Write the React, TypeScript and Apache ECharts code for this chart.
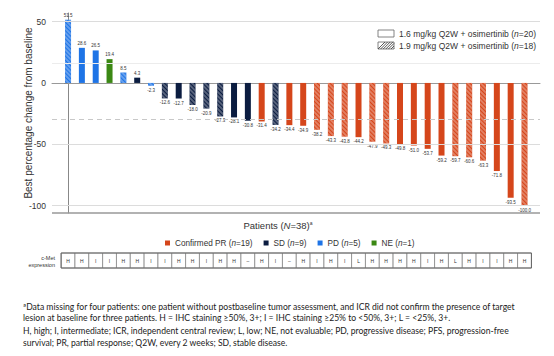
import { useEffect, useRef } from 'react';
import * as echarts from 'echarts';

const changes = [51.5, 28.6, 26.5, 19.4, 8.5, 4.3, -2.3, -12.6, -12.7, -18.0, -20.9, -27.3, -28.1, -30.8, -31.4, -34.2, -34.4, -34.9, -38.2, -43.3, -43.8, -44.2, -47.9, -49.3, -49.8, -51.0, -53.7, -59.2, -59.7, -60.6, -63.3, -71.8, -93.5, -100.0];
const responses = ['PD', 'PD', 'PD', 'NE', 'PD', 'SD', 'PD', 'SD', 'SD', 'SD', 'SD', 'SD', 'SD', 'SD', 'PR', 'SD', 'PR', 'PR', 'PR', 'PR', 'PR', 'PR', 'PR', 'PR', 'PR', 'PR', 'PR', 'PR', 'PR', 'PR', 'PR', 'PR', 'PR', 'PR'];
const doses = ['1.9', '1.6', '1.6', '1.6', '1.9', '1.6', '1.9', '1.9', '1.6', '1.9', '1.9', '1.9', '1.6', '1.6', '1.6', '1.9', '1.6', '1.6', '1.9', '1.9', '1.9', '1.6', '1.9', '1.9', '1.6', '1.6', '1.6', '1.6', '1.9', '1.9', '1.9', '1.6', '1.6', '1.9'];
const cMet = ['H', 'H', 'I', 'I', 'H', 'H', 'I', 'I', 'H', 'H', 'I', 'H', 'H', '–', 'H', 'I', '–', 'H', 'I', 'H', 'I', 'L', 'H', 'H', 'H', 'H', 'I', 'H', 'L', 'H', 'I', 'I', 'H', 'H'];

const responseKeys = ['PR', 'SD', 'PD', 'NE'];
const responseNames = ['Confirmed PR', 'SD', 'PD', 'NE'];
const responseCounts = [19, 9, 5, 1];
const responseColors = ['#D5461B', '#0B1C40', '#1E74E6', '#3B8814'];

const doseKeys = ['1.6', '1.9'];
const doseLabels = ['1.6 mg/kg Q2W + osimertinib', '1.9 mg/kg Q2W + osimertinib'];
const doseCounts = [20, 18];

const yTicks = [50, 0, -50, -100];
const gridValues = [50, -50, -100];
const prThreshold = -30;
const faintValue = 16;
const yMin = -106;
const yMax = 57;

const yAxisTitle = 'Best percentage change from baseline';
const footnotes = [
  'ªData missing for four patients: one patient without postbaseline tumor assessment, and ICR did not confirm the presence of target',
  'lesion at baseline for three patients. H = IHC staining ≥50%, 3+; I = IHC staining ≥25% to <50%, 3+; L = <25%, 3+.',
  'H, high; I, intermediate; ICR, independent central review; L, low; NE, not evaluable; PD, progressive disease; PFS, progression-free',
  'survival; PR, partial response; Q2W, every 2 weeks; SD, stable disease.',
];

const FONT = '"Liberation Sans", Arial, sans-serif';

export default function App() {
  const ref = useRef<HTMLDivElement>(null);
  useEffect(() => {
    document.body.style.margin = '0';
    const chart = echarts.init(ref.current!, null, { renderer: 'svg' });
    const hatch = {
      symbol: 'rect',
      symbolSize: 0.62,
      color: '#ffffff',
      dashArrayX: [1, 0],
      dashArrayY: [2, 1],
      rotation: Math.PI / 4,
    };
    const series: any[] = responseKeys.map((key, k) => ({
      type: 'bar',
      name: `${responseNames[k]} (n=${responseCounts[k]})`,
      barWidth: 6,
      barGap: '-100%',
      itemStyle: { color: responseColors[k] },
      label: {
        show: true,
        fontSize: 4.5,
        color: '#333',
        fontFamily: FONT,
        distance: 2,
        formatter: (p: any) => p.value[1].toFixed(1),
      },
      data: changes
        .map((v, i) => ({ i, v }))
        .filter(({ i }) => responses[i] === key)
        .map(({ i, v }) => ({
          value: [i, v],
          itemStyle: doses[i] === '1.9' ? { decal: hatch } : {},
          label: { position: v >= 0 ? 'top' : 'bottom' },
        })),
    }));
    series[0].markLine = {
      silent: true,
      symbol: 'none',
      label: { show: false },
      data: [
        ...gridValues.map((v) => ({ yAxis: v, lineStyle: { color: '#dcdcdc', type: 'solid', width: 1 } })),
        { yAxis: prThreshold, lineStyle: { color: '#c8c8c8', type: [5, 4], width: 1 } },
        { yAxis: faintValue, lineStyle: { color: '#ececec', type: 'solid', width: 1 } },
        { yAxis: yMin, lineStyle: { color: '#999', type: 'solid', width: 1.5 } },
      ],
    };

    chart.setOption({
      animation: false,
      grid: { left: 52, right: 14, top: 13, bottom: 356 - 213 },
      xAxis: {
        type: 'value',
        min: -1.16,
        max: 34.12,
        axisLine: { show: true, onZero: true, lineStyle: { color: '#999', width: 1 } },
        axisTick: { show: false },
        axisLabel: { show: false },
        splitLine: { show: false },
      },
      yAxis: {
        type: 'value',
        min: yMin,
        max: yMax,
        axisLine: { show: true, lineStyle: { color: '#888' } },
        axisTick: { show: true, length: 4, customValues: yTicks, lineStyle: { color: '#888' } },
        axisLabel: { show: true, customValues: yTicks, fontSize: 8.5, color: '#333', fontFamily: FONT, margin: 6 },
        splitLine: { show: false },
        name: yAxisTitle,
        nameLocation: 'middle',
        nameRotate: 90,
        nameGap: 19,
        nameMoveOverlap: false,
        nameTextStyle: { fontSize: 10, color: '#333', fontFamily: FONT },
      },
      legend: {
        left: 160,
        top: 234,
        itemWidth: 5,
        itemHeight: 5,
        itemGap: 11,
        icon: 'rect',
        data: series.map((s) => s.name),
        formatter: (name: string) => name.replace('(n=', '({i|n}='),
        textStyle: {
          fontSize: 8.2,
          color: '#333',
          fontFamily: FONT,
          rich: { i: { fontStyle: 'italic', fontSize: 8.2, color: '#333', fontFamily: FONT } },
        },
      },
      series,
    });

    const px = (i: number, v: number) => chart.convertToPixel({ gridIndex: 0 }, [i, v]) as number[];
    const step = px(1, 0)[0] - px(0, 0)[0];
    const graphics: any[] = [];

    // top-right dose legend
    doseKeys.forEach((d, k) => {
      const y = 30 + k * 12;
      graphics.push({
        type: 'rect',
        shape: { x: 378, y, width: 16, height: 7 },
        style: { fill: '#fff', stroke: '#666', lineWidth: 0.8 },
      });
      if (d === '1.9') {
        for (let s = 0; s < 7; s++) {
          const x0 = 378 + s * 2.6;
          graphics.push({
            type: 'line',
            shape: { x1: x0, y1: y + 7, x2: Math.min(x0 + 7, 394), y2: y + 7 - (Math.min(x0 + 7, 394) - x0) },
            style: { stroke: '#444', lineWidth: 0.9 },
          });
        }
      }
      graphics.push({
        type: 'text',
        x: 399,
        y: y + 3.5,
        style: {
          text: `${doseLabels[k]} ({i|n}=${doseCounts[k]})`,
          font: `8.5px ${FONT}`,
          fill: '#333',
          verticalAlign: 'middle',
          rich: { i: { fontStyle: 'italic', fontSize: 8.5, fill: '#333', fontFamily: FONT } },
        },
      });
    });

    // x axis title
    graphics.push({
      type: 'text',
      x: 278,
      y: 225,
      style: {
        text: 'Patients ({i|N}=38){s|a}',
        font: `9.5px ${FONT}`,
        fill: '#333',
        align: 'center',
        verticalAlign: 'middle',
        rich: {
          i: { fontStyle: 'italic', fontSize: 9.5, fill: '#333', fontFamily: FONT },
          s: { fontSize: 5, fill: '#333', fontFamily: FONT, padding: [0, 0, 5, 0] },
        },
      },
    });

    // c-Met table
    const tTop = 253;
    const tH = 15;
    cMet.forEach((c, i) => {
      const cx = px(i, 0)[0];
      graphics.push({
        type: 'rect',
        shape: { x: cx - step / 2, y: tTop, width: step, height: tH },
        style: { fill: '#fff', stroke: '#888', lineWidth: 0.8 },
      });
      graphics.push({
        type: 'text',
        x: cx,
        y: tTop + tH / 2,
        style: { text: c, font: `5px ${FONT}`, fill: '#333', align: 'center', verticalAlign: 'middle' },
      });
    });
    const tLeft = px(0, 0)[0] - step / 2;
    const tRight = px(cMet.length - 1, 0)[0] + step / 2;
    graphics.push({
      type: 'rect',
      shape: { x: tLeft, y: tTop, width: tRight - tLeft, height: tH },
      style: { fill: 'none', stroke: '#666', lineWidth: 1 },
    });
    graphics.push({
      type: 'text',
      x: 55,
      y: 257.5,
      style: { text: 'c-Met', font: `5.5px ${FONT}`, fill: '#333', align: 'right', verticalAlign: 'middle' },
    });
    graphics.push({
      type: 'text',
      x: 55,
      y: 264.5,
      style: { text: 'expression', font: `5.5px ${FONT}`, fill: '#333', align: 'right', verticalAlign: 'middle' },
    });

    // footnotes
    const fy = [307, 317.5, 330.5, 342.5];
    footnotes.forEach((t, k) => {
      graphics.push({
        type: 'text',
        x: 23,
        y: fy[k],
        style: { text: t, font: `8.6px Lato, sans-serif`, fill: '#222', verticalAlign: 'middle' },
      });
    });

    chart.setOption({ graphic: graphics });
    return () => chart.dispose();
  }, []);
  return <div ref={ref} style={{ position: 'fixed', left: 0, top: 0, width: 554, height: 356, background: '#fff' }} />;
}
